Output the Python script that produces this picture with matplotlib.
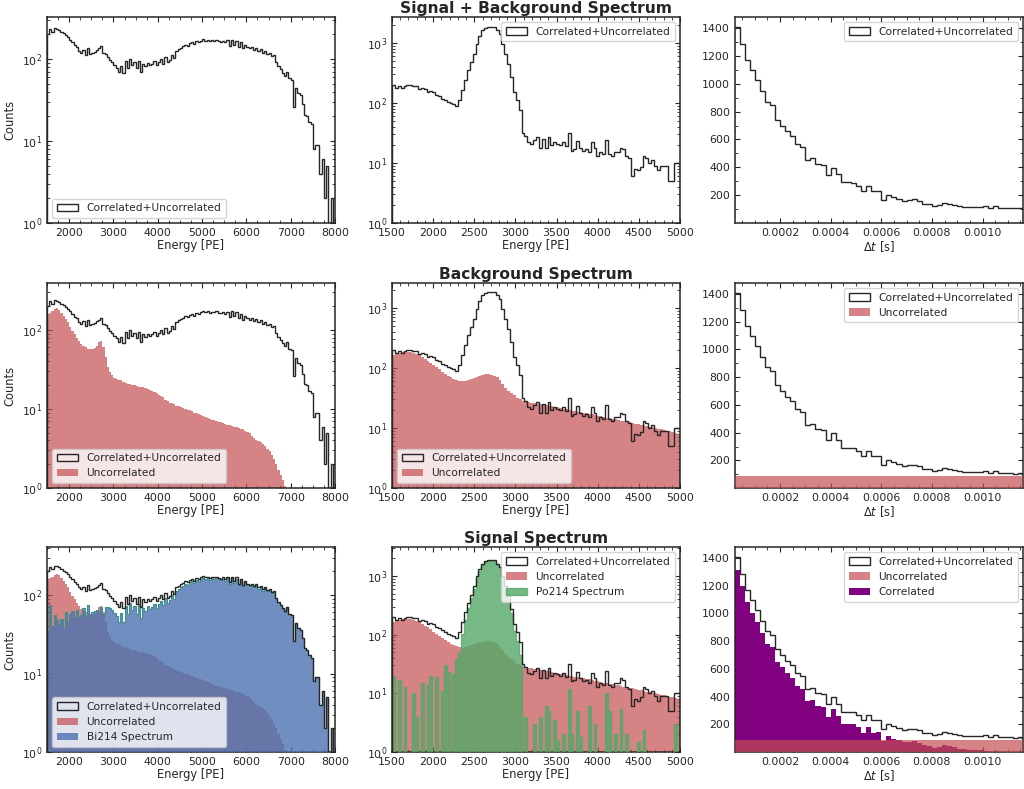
import numpy as np
import matplotlib
matplotlib.use("Agg")
import matplotlib.pyplot as plt
from matplotlib.ticker import AutoMinorLocator

# ---------------- data ----------------
# Left column: prompt energy, 50 PE bins from 1500 to 8000
E_left_range = (1500, 8000)
E_left_width = 50
total_left = [200, 230, 215, 238, 232, 225, 212, 205, 195, 185,
              172, 160, 148, 140, 125, 118, 128, 112, 135, 115,
              118, 122, 128, 135, 142, 118, 115, 105, 98, 92,
              84, 78, 70, 82, 68, 95, 78, 100, 84, 92,
              78, 95, 70, 88, 82, 90, 84, 88, 95, 85,
              92, 100, 88, 105, 92, 98, 112, 102, 125, 132,
              138, 142, 150, 145, 155, 160, 152, 165, 160, 168,
              175, 168, 172, 165, 170, 168, 172, 165, 162, 168,
              160, 170, 145, 172, 150, 168, 140, 160, 135, 150,
              140, 135, 140, 130, 138, 125, 132, 118, 125, 115,
              118, 110, 112, 92, 82, 75, 68, 62, 70, 58,
              55, 26, 44, 38, 36, 28, 21, 20, 17, 16,
              8, 9, 9, 4, 6, 2, 5, 1, 2, 0]
uncorr_left = [160, 165, 172, 182, 188, 178, 165, 150, 138, 125,
               110, 98, 88, 80, 72, 67, 63, 60, 58, 57,
               57, 59, 63, 70, 72, 60, 45, 34, 29, 27,
               25, 24, 23.5, 23, 22, 21.5, 21, 20.5, 20, 20,
               19.5, 19, 19, 19, 18.5, 18, 17.5, 17, 16.5, 16,
               15, 14.5, 14, 13, 12.5, 12, 11.8, 11.5, 11, 10.8,
               10.5, 10.2, 10, 9.8, 9.6, 9.3, 9, 8.8, 8.6, 8.4,
               8.2, 8, 7.8, 7.5, 7.3, 7.2, 7, 6.9, 6.8, 6.6,
               6.5, 6.3, 6.2, 6.1, 6, 5.9, 5.8, 5.6, 5.5, 5.3,
               5.1, 4.9, 4.6, 4.3, 4.1, 3.9, 3.8, 3.6, 3.4, 3.1,
               2.9, 2.6, 2.3, 2.0, 1.7, 1.45, 1.25, 1.05, 0, 0,
               0, 0, 0, 0, 0, 0, 0, 0, 0, 0,
               0, 0, 0, 0, 0, 0, 0, 0, 0, 0]
bi214_left = [35, 75, 40, 55, 48, 42, 50, 38, 60, 45,
              58, 62, 52, 65, 52, 55, 68, 52, 75, 58,
              60, 63, 65, 62, 70, 58, 70, 71, 68, 65,
              59, 54, 46, 59, 46, 73, 57, 79, 64, 72,
              58, 76, 51, 69, 63, 72, 66, 71, 78, 69,
              77, 85, 74, 92, 79, 86, 100, 90, 114, 121,
              127, 132, 140, 135, 145, 151, 143, 156, 151, 160,
              167, 160, 164, 157, 163, 161, 165, 158, 155, 161,
              153, 164, 139, 166, 144, 162, 134, 154, 129, 145,
              135, 130, 135, 126, 134, 121, 128, 114, 122, 112,
              115, 107, 110, 90, 80, 74, 67, 61, 70, 58,
              55, 26, 44, 38, 36, 28, 21, 20, 17, 16,
              8, 9, 9, 4, 6, 2, 5, 1, 2, 0]

# Middle column: delayed energy, 35 PE bins from 1500 to 5000
E_mid_range = (1500, 5000)
E_mid_nbins = 100
total_mid = [200, 180, 195, 178, 195, 200, 196, 188, 195, 172,
             178, 172, 150, 158, 150, 135, 130, 118, 112, 104,
             100, 95, 88, 110, 163, 238, 350, 480, 660, 975,
             1290, 1620, 1780, 1850, 1850, 1840, 1620, 1430, 975, 660,
             450, 270, 150, 110, 75, 31, 28, 22, 21, 24,
             27, 18, 25, 18, 27, 20, 22, 21, 20, 22,
             19, 31, 16, 17, 23, 18, 16, 17, 15, 22,
             18, 13, 15, 14, 24, 14, 13, 15, 15, 18,
             17, 13, 12, 6, 8, 7.5, 8.5, 13, 12, 10,
             11, 9, 7.5, 9, 9, 9, 5, 5, 10, 10]
uncorr_mid = [165, 170, 178, 182, 185, 185, 183, 178, 170, 162,
              152, 142, 132, 122, 112, 103, 95, 87, 80, 74,
              70, 66, 63, 61, 60, 61, 63, 66, 69, 72,
              74, 76, 78, 78, 76, 74, 70, 62, 54, 47,
              42, 38, 35, 32, 30, 28.5, 27.5, 27, 26.5, 26,
              25.5, 25, 24.5, 24, 23.5, 23, 22.5, 22, 21.5, 21,
              20.5, 20, 19.5, 19, 18.7, 18.3, 18, 17.6, 17.2, 16.8,
              16.4, 16, 15.6, 15.2, 14.8, 14.5, 14.2, 13.9, 13.6, 13.3,
              13, 12.7, 12.4, 12.1, 11.8, 11.5, 11.2, 11, 10.7, 10.4,
              10.2, 10, 9.7, 9.5, 9.2, 9, 8.8, 8.5, 8.3, 8]
po214_mid = [20, 0, 17, 0, 13, 0, 0, 10, 4, 0,
             15, 0, 14, 20, 0, 19, 0, 11, 30, 23,
             0, 21, 38, 49, 103, 177, 287, 414, 591, 903,
             1216, 1544, 1702, 1772, 1774, 1766, 1550, 1368, 921, 613,
             408, 232, 115, 78, 45, 0, 4, 0, 0, 3,
             0, 4, 0, 6, 5, 0, 3.5, 1.6, 0, 2,
             0, 12, 2, 0, 5, 1.8, 0, 0, 6, 0,
             3, 0, 0, 0, 10, 5, 0, 2, 0, 5.5,
             0, 2, 0, 0, 0, 1.5, 0, 2.4, 0, 0,
             0, 0, 0, 0, 0, 0, 0, 0, 3, 0]

# Right column: time difference, 20 us bins
dt_range = (2e-5, 1.16e-3)
dt_nbins = 57
total_dt = [1405, 1285, 1170, 1095, 1025, 945, 870, 845, 740, 700,
            660, 625, 570, 545, 455, 465, 425, 418, 345, 398,
            350, 292, 292, 290, 268, 228, 268, 228, 232, 168,
            205, 185, 175, 160, 165, 170, 158, 140, 135, 122,
            128, 145, 135, 128, 122, 115, 115, 115, 118, 120,
            108, 125, 110, 108, 108, 105, 110]
uncorr_dt = [90, 90, 90, 90, 90, 90, 90, 90, 90, 90,
             90, 90, 90, 90, 90, 90, 90, 90, 90, 90,
             90, 90, 90, 90, 90, 90, 90, 90, 90, 90,
             90, 90, 90, 90, 90, 90, 90, 90, 90, 90,
             90, 90, 90, 90, 90, 90, 90, 90, 90, 90,
             90, 90, 90, 90, 90, 90, 90]
corr_dt = [1312, 1195, 1080, 1005, 935, 855, 780, 755, 650, 610,
           570, 535, 480, 455, 365, 375, 335, 328, 255, 308,
           260, 202, 202, 200, 178, 138, 178, 138, 142, 78,
           115, 95, 85, 70, 75, 80, 68, 50, 45, 32,
           38, 55, 45, 38, 25, 20, 18, 15, 12, 10,
           0, 8, 0, 0, 0, 0, 0]

row_titles = ["Signal + Background Spectrum", "Background Spectrum", "Signal Spectrum"]
lbl_total = "Correlated+Uncorrelated"
lbl_unc = "Uncorrelated"
lbl_bi = "Bi214 Spectrum"
lbl_po = "Po214 Spectrum"
lbl_corr = "Correlated"

# ---------------- style ----------------
plt.rcParams.update({
    "font.family": ["DejaVu Sans"],
    "font.size": 7.9,
    "axes.edgecolor": "0.15",
    "axes.linewidth": 1.1,
    "text.color": "0.15",
    "axes.labelcolor": "0.15",
    "xtick.color": "0.15",
    "ytick.color": "0.15",
    "xtick.direction": "in",
    "ytick.direction": "in",
    "xtick.top": True,
    "ytick.right": True,
    "xtick.major.size": 3.5,
    "ytick.major.size": 3.5,
    "xtick.minor.size": 2.0,
    "ytick.minor.size": 2.0,
    "xtick.labelsize": 7.9,
    "ytick.labelsize": 7.9,
    "axes.labelsize": 8.3,
    "legend.fontsize": 7.7,
})

C_LINE = "0.15"
C_RED = "#C44E52"
C_BLUE = "#4C72B0"
C_GREEN = "#55A868"
C_PURPLE = "purple"

W, H = 1024, 789
fig = plt.figure(figsize=(W / 100, H / 100), dpi=100)

cols_px = [(47, 335), (392, 680), (735, 1023)]
rows_px = [(17, 223), (283, 488), (547, 752)]


def make_ax(r, c):
    x0, x1 = cols_px[c]
    y0, y1 = rows_px[r]
    return fig.add_axes([x0 / W, 1 - y1 / H, (x1 - x0) / W, (y1 - y0) / H])


e_left_edges = np.arange(E_left_range[0], E_left_range[1] + 1, E_left_width)
e_mid_edges = np.linspace(E_mid_range[0], E_mid_range[1], E_mid_nbins + 1)
dt_edges = np.linspace(dt_range[0], dt_range[1], dt_nbins + 1)


def centers(edges):
    return 0.5 * (edges[:-1] + edges[1:])


def h_step(ax, edges, vals, label, z=4):
    ax.hist(centers(edges), bins=edges, weights=vals, histtype="step",
            color=C_LINE, lw=1.0, label=label, zorder=z)


def h_fill(ax, edges, vals, color, alpha, label, z=2):
    ax.hist(centers(edges), bins=edges, weights=vals, histtype="stepfilled",
            color=color, alpha=alpha, label=label, zorder=z, lw=0)


left_ylims = [325, 393, 410]
mid_ylims = [2700, 2600, 3100]

for r in range(3):
    # ---- left ----
    ax = make_ax(r, 0)
    h_step(ax, e_left_edges, total_left, lbl_total)
    if r >= 1:
        h_fill(ax, e_left_edges, uncorr_left, C_RED, 0.7, lbl_unc, z=2)
    if r == 2:
        h_fill(ax, e_left_edges, bi214_left, C_BLUE, 0.8, lbl_bi, z=3)
        ax.hist(centers(e_left_edges), bins=e_left_edges, weights=bi214_left,
                histtype="step", color="#3f8f8a", lw=0.8, zorder=3)
    ax.set_yscale("log")
    ax.set_xlim(*E_left_range)
    ax.set_ylim(1, left_ylims[r])
    ax.xaxis.set_minor_locator(AutoMinorLocator(4))
    ax.set_xlabel("Energy [PE]", labelpad=1)
    ax.set_ylabel("Counts")
    ax.legend(loc="lower left")

    # ---- middle ----
    ax = make_ax(r, 1)
    h_step(ax, e_mid_edges, total_mid, lbl_total)
    if r >= 1:
        h_fill(ax, e_mid_edges, uncorr_mid, C_RED, 0.7, lbl_unc, z=2)
    if r == 2:
        ax.hist(centers(e_mid_edges), bins=e_mid_edges, weights=po214_mid,
                histtype="stepfilled", facecolor=C_GREEN, edgecolor=C_GREEN,
                alpha=0.8, lw=1.0, label=lbl_po, zorder=3)
    ax.set_yscale("log")
    ax.set_xlim(*E_mid_range)
    ax.set_ylim(1, mid_ylims[r])
    ax.xaxis.set_minor_locator(AutoMinorLocator(5))
    ax.set_xlabel("Energy [PE]", labelpad=1)
    ax.set_title(row_titles[r], fontsize=11.2, fontweight="bold", pad=3)
    if r == 1:
        ax.legend(loc="lower left")
    else:
        ax.legend(loc="upper right")

    # ---- right ----
    ax = make_ax(r, 2)
    h_step(ax, dt_edges, total_dt, lbl_total, z=5)
    if r >= 1:
        h_fill(ax, dt_edges, uncorr_dt, C_RED, 0.7, lbl_unc, z=3)
    if r == 2:
        h_fill(ax, dt_edges, corr_dt, C_PURPLE, 1.0, lbl_corr, z=2)
    ax.set_xlim(2.2e-5, dt_range[1])
    ax.set_ylim(1, 1478)
    ax.xaxis.set_minor_locator(AutoMinorLocator(4))
    ax.yaxis.set_minor_locator(AutoMinorLocator(2))
    ax.set_xlabel(r"$\Delta t$ [s]", labelpad=1)
    ax.legend(loc="upper right")

fig.savefig("out.png", dpi=100)
